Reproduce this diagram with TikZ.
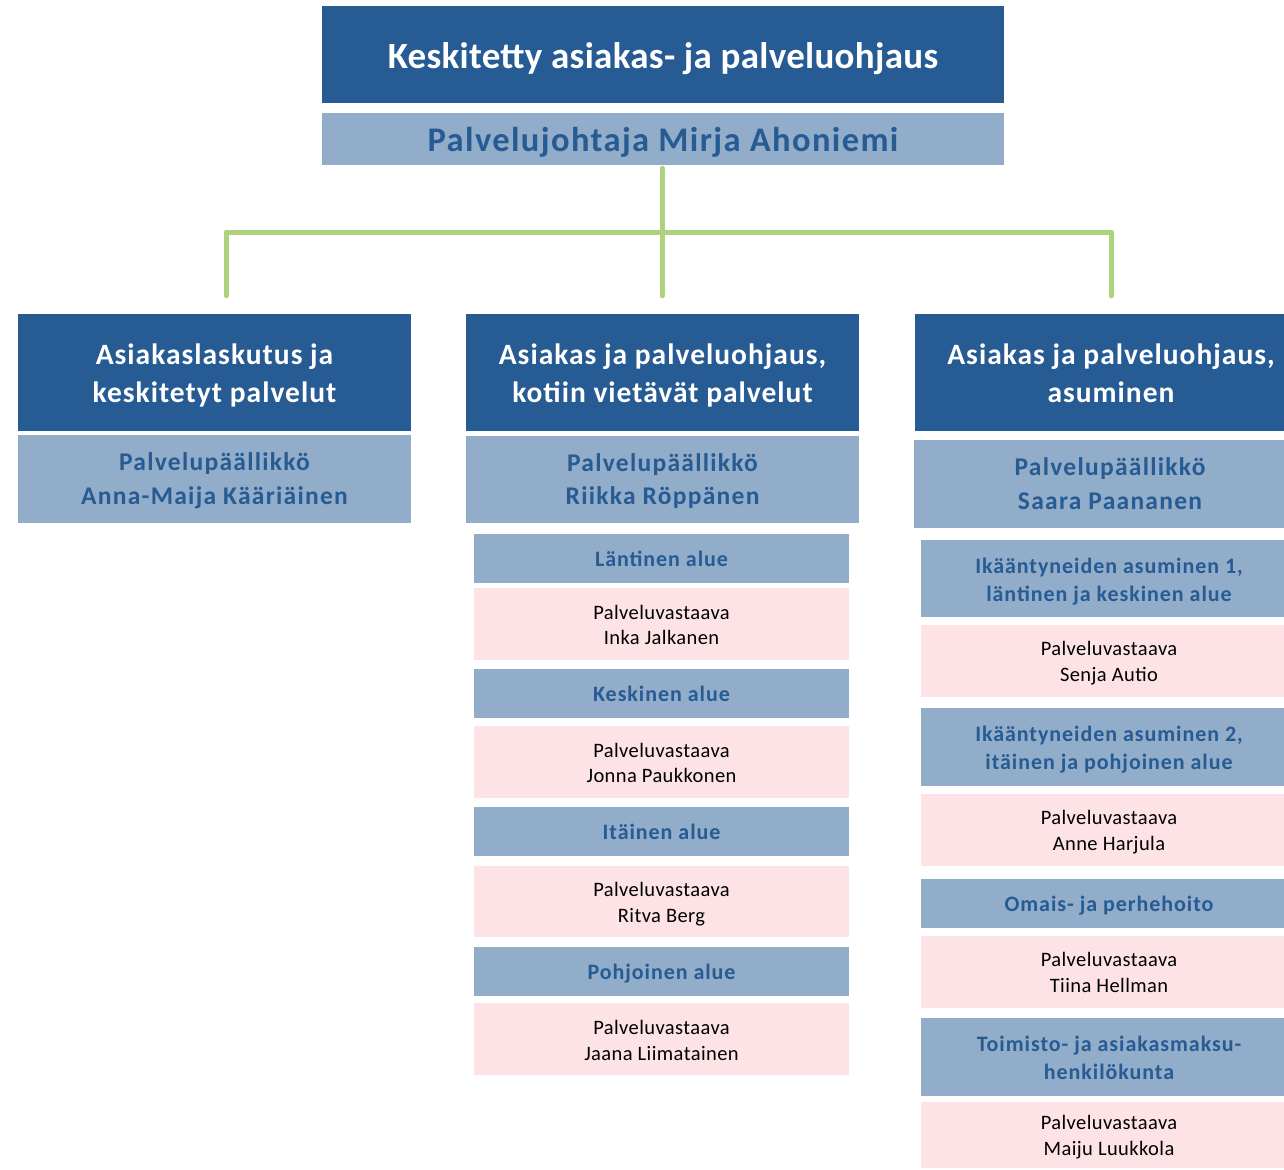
\documentclass[tikz,border=0pt]{standalone}
\usepackage{fontspec}
\setmainfont{Carlito}
\definecolor{dblue}{RGB}{38,91,147}
\definecolor{lblue}{RGB}{146,173,201}
\definecolor{pinkbg}{RGB}{253,227,229}
\definecolor{lgreen}{RGB}{174,210,126}
\newcommand\dnbox[2]{\raisebox{-#1}[\height][\depth]{\begin{tabular}{@{}c@{}}#2\end{tabular}}}
\tikzset{
  base/.style={inner sep=0pt, align=center, anchor=center},
  titlebox/.style={base, fill=dblue, text=white, font=\bfseries\fontsize{37}{44}\selectfont\addfontfeature{LetterSpace=0.8}, minimum width=682pt, minimum height=97pt},
  dirbox/.style={base, fill=lblue, text=dblue, font=\bfseries\fontsize{34.5}{40}\selectfont\addfontfeature{LetterSpace=4}, minimum width=682pt, minimum height=52pt},
  headbox/.style={base, fill=dblue, text=white, font=\bfseries\fontsize{29.5}{37.5}\selectfont\addfontfeature{LetterSpace=3.4}, minimum width=393pt, minimum height=117pt},
  chiefbox/.style={base, fill=lblue, text=dblue, font=\bfseries\fontsize{25.5}{33.5}\selectfont\addfontfeature{LetterSpace=5}, minimum width=393pt, minimum height=88pt},
  areabox/.style={base, fill=lblue, text=dblue, font=\bfseries\fontsize{22}{28}\selectfont\addfontfeature{LetterSpace=4.3}, minimum width=375pt},
  personbox/.style={base, fill=pinkbg, text=black, font=\fontsize{20.5}{25.7}\selectfont\addfontfeature{LetterSpace=2}, minimum width=375pt},
  conn/.style={draw=lgreen, line width=5pt, line cap=round, line join=round}
}
\begin{document}
\begin{tikzpicture}[x=1pt,y=-1pt]
\clip (0,0) rectangle (1284,1169);
\fill[white] (0,0) rectangle (1284,1169);
% top
\node[titlebox] (title) at (663,54.5) {\dnbox{5pt}{Keskitetty asiakas- ja palveluohjaus}};
\node[dirbox] (dir) at (663,139) {\dnbox{5pt}{Palvelujohtaja Mirja Ahoniemi}};
% column heads
\node[headbox] (h1) at (214.5,372.5) {\dnbox{3.5pt}{Asiakaslaskutus ja\\keskitetyt palvelut}};
\node[chiefbox] (c1) at (214.5,479) {\dnbox{2pt}{Palvelupäällikkö\\Anna-Maija Kääriäinen}};
\node[headbox] (h2) at (662.5,372.5) {\dnbox{3.5pt}{Asiakas ja palveluohjaus,\\kotiin vietävät palvelut}};
\node[chiefbox, minimum height=87pt] (c2) at (662.5,479.5) {\dnbox{2pt}{Palvelupäällikkö\\Riikka Röppänen}};
\node[headbox] (h3) at (1111,372.5) {\dnbox{3.5pt}{Asiakas ja palveluohjaus,\\asuminen}};
\node[chiefbox, minimum width=392pt] (c3) at (1110,484) {\dnbox{2pt}{Palvelupäällikkö\\Saara Paananen}};
% column 2 areas
\node[areabox, minimum height=49pt] (a21) at (661.5,558.5) {\dnbox{2.5pt}{Läntinen alue}};
\node[personbox, minimum height=72pt] (p21) at (661.5,624) {\dnbox{3pt}{Palveluvastaava\\Inka Jalkanen}};
\node[areabox, minimum height=49pt] (a22) at (661.5,693.5) {\dnbox{2.5pt}{Keskinen alue}};
\node[personbox, minimum height=72pt] (p22) at (661.5,762) {\dnbox{3pt}{Palveluvastaava\\Jonna Paukkonen}};
\node[areabox, minimum height=49pt] (a23) at (661.5,831.5) {\dnbox{2.5pt}{Itäinen alue}};
\node[personbox, minimum height=71pt] (p23) at (661.5,901.5) {\dnbox{3pt}{Palveluvastaava\\Ritva Berg}};
\node[areabox, minimum height=49pt] (a24) at (661.5,971.5) {\dnbox{2.5pt}{Pohjoinen alue}};
\node[personbox, minimum height=72pt] (p24) at (661.5,1039) {\dnbox{3pt}{Palveluvastaava\\Jaana Liimatainen}};
% column 3 areas
\node[areabox, minimum height=77pt, minimum width=376pt] (a31) at (1109,578.5) {\dnbox{3pt}{Ikääntyneiden asuminen 1,\\läntinen ja keskinen alue}};
\node[personbox, minimum height=72pt, minimum width=376pt] (p31) at (1109,661) {\dnbox{2.5pt}{Palveluvastaava\\Senja Autio}};
\node[areabox, minimum height=78pt, minimum width=376pt] (a32) at (1109,747) {\dnbox{3pt}{Ikääntyneiden asuminen 2,\\itäinen ja pohjoinen alue}};
\node[personbox, minimum height=72pt, minimum width=376pt] (p32) at (1109,830) {\dnbox{2.5pt}{Palveluvastaava\\Anne Harjula}};
\node[areabox, minimum height=49pt, minimum width=376pt] (a33) at (1109,903.5) {\dnbox{2pt}{Omais- ja perhehoito}};
\node[personbox, minimum height=72pt, minimum width=376pt] (p33) at (1109,972) {\dnbox{2.5pt}{Palveluvastaava\\Tiina Hellman}};
\node[areabox, minimum height=78pt, minimum width=376pt] (a34) at (1109,1057) {\dnbox{3pt}{Toimisto- ja asiakasmaksu-\\henkilökunta}};
\node[personbox, minimum height=66pt, minimum width=376pt] (p34) at (1109,1135) {\dnbox{2.5pt}{Palveluvastaava\\Maiju Luukkola}};
% connectors
\coordinate (hub) at (662,232);
\draw[conn] ([xshift=-1pt,yshift=-3pt]dir.south) -- ([xshift=-0.5pt,yshift=18pt]h2.north);
\draw[conn] ([xshift=11.5pt,yshift=18pt]h1.north) |- (hub) -| ([yshift=18pt]h3.north);
\end{tikzpicture}
\end{document}
